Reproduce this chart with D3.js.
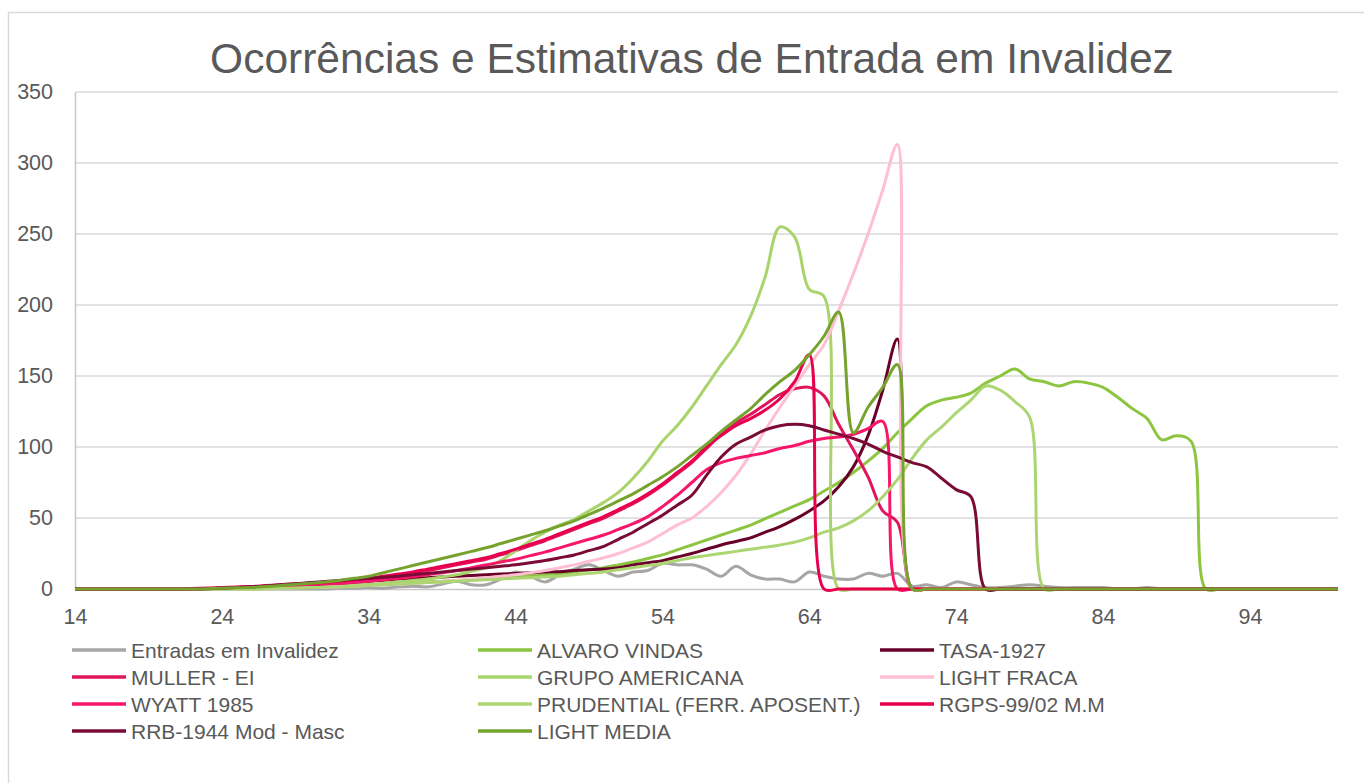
<!DOCTYPE html>
<html>
<head>
<meta charset="utf-8">
<script src="https://cdn.jsdelivr.net/npm/d3@7/dist/d3.min.js"></script>
<style>
    body { margin: 0; background: #fff; }
    svg text { font-family: "Liberation Sans", Arial, sans-serif; fill: #595959; }
</style>
</head>
<body>
<svg id="chart" width="1364" height="783"></svg>
<script>
const width = 1364
const height = 783
const plot_left = 75
const plot_right = 1338
const plot_top = 92
const plot_bottom = 589

// ages 14 .. 100
const ages = d3.range(14, 101)
const x_ticks = [14, 24, 34, 44, 54, 64, 74, 84, 94]
const y_ticks = [0, 50, 100, 150, 200, 250, 300, 350]

const title = "Ocorrências e Estimativas de Entrada em Invalidez"

const series_names = [
    "Entradas em Invalidez", "ALVARO VINDAS", "TASA-1927",
    "MULLER - EI", "GRUPO AMERICANA", "LIGHT FRACA",
    "WYATT 1985", "PRUDENTIAL (FERR. APOSENT.)", "RGPS-99/02 M.M",
    "RRB-1944 Mod - Masc", "LIGHT MEDIA"
]
const series_colors = [
    "#a6a6a6", "#8cc540", "#68002a",
    "#e0155c", "#a9d46c", "#ffbfd3",
    "#f7166a", "#acd672", "#e8004f",
    "#7a0b37", "#76a32e"
]

// values per age, 14 .. 100
const entradas = [
    0, 0, 0, 0, 0, 0, 0, 0, 0, 0,
    0, 0, 0, 0, 0, 0, 0, 0, 0.5, 0.5,
    1, 0.5, 1.5, 2, 1.5, 3.5, 5.5, 3, 3, 7,
    12, 9, 5, 10, 14, 17, 13, 9, 12, 13,
    18, 17, 17, 14, 9, 16, 10, 7, 7, 5,
    12, 9, 7, 7, 11, 9, 11, 2, 3, 1,
    5, 3, 1, 1, 2, 3, 2, 1, 1, 1,
    1, 0, 0, 1, 0, 0, 0, 0, 0, 0,
    0, 0, 0, 0, 0, 0, 0
]
const alvaro_vindas = [
    0, 0, 0, 0, 0, 0, 0, 0, 0, 0,
    0, 0.3, 0.5, 0.8, 1, 1.3, 1.5, 1.8, 2, 2.5,
    3, 3.5, 4, 4.5, 5, 5.5, 6, 6.5, 7, 7.8,
    8.5, 9.2, 10, 11, 12, 13.5, 15, 17, 19, 21.5,
    24, 27.5, 31, 34.5, 38, 41.5, 45, 49.5, 54, 58.5,
    63, 69, 75, 82, 90, 99, 110, 120, 129, 133,
    135, 138, 145, 150, 155, 148, 146, 143, 146, 145,
    142, 135, 127, 120, 105, 108, 104, 0, 0, 0,
    0, 0, 0, 0, 0, 0, 0
]
const tasa_1927 = [
    0, 0, 0, 0, 0, 0, 0, 0, 0, 0.2,
    0.5, 0.8, 1, 1.5, 2, 2.5, 3, 3.5, 4, 4.8,
    5.5, 6.2, 7, 7.5, 8, 8.5, 9, 9.5, 10, 10.5,
    11, 11.5, 12, 12.2, 13, 13.5, 14, 15, 17, 18.5,
    20, 22.5, 25, 28, 31, 33.5, 36, 40, 44, 49,
    55, 62, 72, 86, 108, 140, 176, 0, 0, 0,
    0, 0, 0, 0, 0, 0, 0, 0, 0, 0,
    0, 0, 0, 0, 0, 0, 0, 0, 0, 0,
    0, 0, 0, 0, 0, 0, 0
]
const muller_ei = [
    0, 0, 0, 0, 0, 0, 0, 0, 0.3, 0.5,
    0.8, 1.1, 1.5, 2, 2.5, 3, 3.5, 4.2, 5, 6,
    7, 8.5, 10, 11.5, 13, 15, 17, 19, 21, 24,
    27, 30.5, 34, 38, 42, 46, 50, 55, 60, 66,
    73, 81, 89, 99, 109, 117, 123, 130, 137, 141,
    142, 136, 116, 98, 79, 55, 47, 0, 0, 0,
    0, 0, 0, 0, 0, 0, 0, 0, 0, 0,
    0, 0, 0, 0, 0, 0, 0, 0, 0, 0,
    0, 0, 0, 0, 0, 0, 0
]
const grupo_americana = [
    0, 0, 0, 0, 0, 0, 0, 0, 0, 0,
    0, 0, 0, 0.3, 0.5, 0.8, 1, 1.4, 2, 2.5,
    3, 4, 5, 6, 7, 8.5, 10, 12.5, 15, 20,
    27, 34, 40, 45, 49, 55, 61, 68, 78, 90,
    104, 115, 128, 143, 158, 172, 192, 220, 255, 248,
    211, 206, 0, 0, 0, 0, 0, 0, 0, 0,
    0, 0, 0, 0, 0, 0, 0, 0, 0, 0,
    0, 0, 0, 0, 0, 0, 0, 0, 0, 0,
    0, 0, 0, 0, 0, 0, 0
]
const light_fraca = [
    0, 0, 0, 0, 0, 0, 0, 0, 0, 0,
    0, 0, 0.2, 0.4, 0.6, 0.8, 1, 1.3, 1.6, 2,
    2.4, 2.8, 3.3, 3.9, 4.5, 5.2, 6, 7, 8, 9,
    10, 11.5, 13, 15, 17, 19.5, 22, 25, 29, 33,
    39, 45, 50, 58, 68, 80, 95, 112, 128, 143,
    158, 172, 196, 222, 250, 281, 313, 0, 0, 0,
    0, 0, 0, 0, 0, 0, 0, 0, 0, 0,
    0, 0, 0, 0, 0, 0, 0, 0, 0, 0,
    0, 0, 0, 0, 0, 0, 0
]
const wyatt_1985 = [
    0, 0, 0, 0, 0, 0, 0, 0, 0, 0.2,
    0.5, 0.7, 1, 1.5, 2, 2.5, 3, 3.5, 4, 4.8,
    5.5, 6.5, 7.5, 8.7, 10, 11.5, 13, 15, 17, 19,
    21, 23.5, 26, 29, 32, 35, 38, 42, 46, 51,
    58, 66, 75, 84, 89, 92, 94, 96, 99, 101,
    104, 106, 107, 109, 113, 118, 0, 0, 0, 0,
    0, 0, 0, 0, 0, 0, 0, 0, 0, 0,
    0, 0, 0, 0, 0, 0, 0, 0, 0, 0,
    0, 0, 0, 0, 0, 0, 0
]
const prudential = [
    0, 0, 0, 0, 0, 0, 0, 0, 0, 0,
    0, 0, 0, 0.3, 0.5, 0.7, 1, 1.2, 1.5, 2,
    2.5, 3, 3.5, 4, 4.5, 5, 5.5, 6, 6.5, 7,
    7.5, 8, 8.5, 9, 10, 11, 12, 13.5, 15, 16.5,
    18, 20, 22, 23.5, 25, 26.5, 28, 29.5, 31, 33,
    36, 40, 43, 48, 55, 65, 77, 92, 105, 114,
    124, 133, 143, 140, 132, 121, 0, 0, 0, 0,
    0, 0, 0, 0, 0, 0, 0, 0, 0, 0,
    0, 0, 0, 0, 0, 0, 0
]
const rgps_99_02 = [
    0, 0, 0, 0, 0, 0, 0, 0, 0.3, 0.6,
    1, 1.4, 1.8, 2.4, 3, 3.5, 4, 4.8, 5.5, 6.5,
    7.5, 9, 10.5, 12, 14, 16, 18, 20, 22, 25,
    28, 31.5, 35, 39, 43, 47, 51, 56, 61, 67,
    74, 82, 90, 100, 108, 115, 120, 126, 134, 146,
    165, 0, 0, 0, 0, 0, 0, 0, 0, 0,
    0, 0, 0, 0, 0, 0, 0, 0, 0, 0,
    0, 0, 0, 0, 0, 0, 0, 0, 0, 0,
    0, 0, 0, 0, 0, 0, 0
]
const rrb_1944 = [
    0, 0, 0, 0, 0, 0, 0, 0, 0, 0.2,
    0.5, 1, 1.5, 2.2, 3, 3.7, 4.5, 5.2, 6, 6.8,
    7.5, 8.2, 9, 10, 11, 12, 13, 14, 15, 16,
    17, 18.5, 20, 22, 24, 27, 30, 35, 40, 46,
    52, 59, 66, 80, 93, 102, 107, 112, 115, 116,
    115, 112, 109, 106, 102, 97, 93, 89, 86, 78,
    70, 65, 0, 0, 0, 0, 0, 0, 0, 0,
    0, 0, 0, 0, 0, 0, 0, 0, 0, 0,
    0, 0, 0, 0, 0, 0, 0
]
const light_media = [
    0, 0, 0, 0, 0, 0, 0, 0, 0, 0.2,
    0.5, 0.8, 1, 1.7, 2.5, 3.2, 4, 5, 6, 7.5,
    9, 11.5, 14, 16.5, 19, 21.5, 24, 26.5, 29, 32,
    35, 38, 41, 44.5, 48, 52.5, 57, 62, 67, 73,
    79, 86, 94, 102, 111, 119, 127, 137, 146, 154,
    165, 178, 195, 110, 128, 142, 158, 0, 0, 0,
    0, 0, 0, 0, 0, 0, 0, 0, 0, 0,
    0, 0, 0, 0, 0, 0, 0, 0, 0, 0,
    0, 0, 0, 0, 0, 0, 0
]

const series_values = [
    entradas, alvaro_vindas, tasa_1927,
    muller_ei, grupo_americana, light_fraca,
    wyatt_1985, prudential, rgps_99_02,
    rrb_1944, light_media
]

const svg = d3.select("#chart")

var xScale = d3.scaleLinear().domain([14, 100]).range([plot_left, plot_right])
var yScale = d3.scaleLinear().domain([0, 350]).range([plot_bottom, plot_top])

// chart frame
svg.append("rect")
    .attr("x", 8.5).attr("y", 12.5)
    .attr("width", 1400).attr("height", 800)
    .attr("fill", "none")
    .attr("stroke", "#d9d9d9")
    .attr("stroke-width", 1.5)

svg.append("text")
    .attr("x", 692)
    .attr("y", 73)
    .attr("text-anchor", "middle")
    .attr("font-size", 42.5)
    .text(title)

// grid
svg.append("g")
    .selectAll("line")
    .data(y_ticks.filter(d => d > 0))
    .join("line")
        .attr("x1", plot_left).attr("x2", plot_right)
        .attr("y1", d => yScale(d)).attr("y2", d => yScale(d))
        .attr("stroke", "#d9d9d9")
        .attr("stroke-width", 1.5)

// y axis
var yAxis = svg.append("g")
    .attr("transform", "translate(" + plot_left + ",0)")
    .call(d3.axisLeft(yScale).tickValues(y_ticks).tickSize(0).tickPadding(22))
yAxis.select(".domain").attr("stroke", "#c8c8c8").attr("stroke-width", 1.5)
yAxis.selectAll("text").attr("font-size", 21.5).attr("fill", "#595959")

// x axis
var xAxis = svg.append("g")
    .attr("transform", "translate(0," + plot_bottom + ")")
    .call(d3.axisBottom(xScale).tickValues(x_ticks).tickSize(0).tickPadding(20))
xAxis.select(".domain").attr("stroke", "#c8c8c8").attr("stroke-width", 1.5)
xAxis.selectAll("text").attr("font-size", 21.5).attr("fill", "#595959")

// series (smoothed like the spreadsheet lines)
var line = d3.line()
    .x((d, i) => xScale(ages[i]))
    .y(d => yScale(d))
    .curve(d3.curveCatmullRom.alpha(0.5))

svg.append("g")
    .selectAll("path")
    .data(series_values)
    .join("path")
        .attr("d", d => line(d))
        .attr("fill", "none")
        .attr("stroke", (d, i) => series_colors[i])
        .attr("stroke-width", 3)
        .attr("stroke-linejoin", "round")

// legend, 3 columns
const legend_x = [72, 478, 880]
var legend = svg.append("g")
    .selectAll("g")
    .data(series_names)
    .join("g")
        .attr("transform", (d, i) => "translate(" + legend_x[i % 3] + "," + (650 + Math.floor(i / 3) * 27) + ")")

legend.append("line")
    .attr("x1", 0).attr("x2", 54)
    .attr("y1", 0).attr("y2", 0)
    .attr("stroke", (d, i) => series_colors[i])
    .attr("stroke-width", 3.5)

legend.append("text")
    .attr("x", 59)
    .attr("y", 7.5)
    .attr("font-size", 21)
    .text(d => d)
</script>
</body>
</html>
